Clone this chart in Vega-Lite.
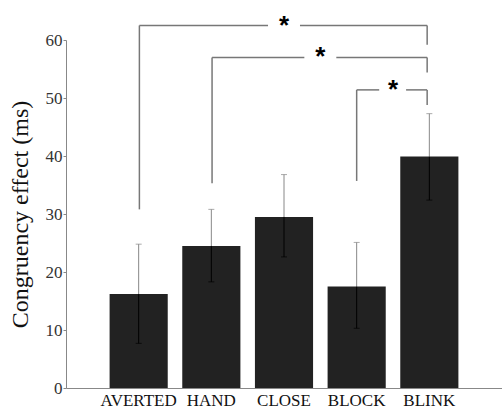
{
  "$schema": "https://vega.github.io/schema/vega-lite/v6.json",
  "width": 436,
  "height": 348,
  "autosize": {"type": "none"},
  "padding": {"left": 66, "top": 40, "right": 0, "bottom": 23},
  "background": "white",
  "config": {"view": {"stroke": null}, "font": "Liberation Serif"},
  "datasets": {
    "bars": [
      {"cond": "AVERTED", "mean": 16.2, "lo": 7.7, "hi": 24.8},
      {"cond": "HAND", "mean": 24.5, "lo": 18.3, "hi": 30.8},
      {"cond": "CLOSE", "mean": 29.5, "lo": 22.6, "hi": 36.8},
      {"cond": "BLOCK", "mean": 17.5, "lo": 10.3, "hi": 25.1},
      {"cond": "BLINK", "mean": 39.9, "lo": 32.4, "hi": 47.3}
    ],
    "vlines": [
      {"bx": 1.01, "by1": 30.8, "by2": 62.5},
      {"bx": 4.97, "by1": 59.2, "by2": 62.5},
      {"bx": 2.01, "by1": 35.3, "by2": 57.0},
      {"bx": 4.97, "by1": 54.4, "by2": 57.0},
      {"bx": 4.0, "by1": 35.7, "by2": 51.4},
      {"bx": 4.97, "by1": 48.8, "by2": 51.4}
    ],
    "hlines": [
      {"bx1": 1.01, "bx2": 2.78, "by": 62.5},
      {"bx1": 3.22, "bx2": 4.97, "by": 62.5},
      {"bx1": 2.01, "bx2": 3.28, "by": 57.0},
      {"bx1": 3.72, "bx2": 4.97, "by": 57.0},
      {"bx1": 4.0, "bx2": 4.31, "by": 51.4},
      {"bx1": 4.68, "bx2": 4.97, "by": 51.4}
    ],
    "stars": [
      {"bx": 3.0, "by": 63.2, "label": "*"},
      {"bx": 3.5, "by": 58.0, "label": "*"},
      {"bx": 4.5, "by": 52.2, "label": "*"}
    ]
  },
  "layer": [
    {
      "data": {"name": "bars"},
      "encoding": {
        "x": {
          "field": "cond",
          "type": "nominal",
          "scale": {"domain": ["AVERTED", "HAND", "CLOSE", "BLOCK", "BLINK"], "paddingInner": 0.2, "paddingOuter": 0.6},
          "axis": {"title": null, "labelAngle": 0, "ticks": false, "domainColor": "#888888", "labelFontSize": 17, "labelColor": "#111111", "labelPadding": 4}
        }
      },
      "layer": [
        {
          "mark": {"type": "bar", "color": "#222222"},
          "encoding": {
            "y": {
              "field": "mean",
              "type": "quantitative",
              "scale": {"domain": [0, 60]},
              "axis": {"title": "Congruency effect (ms)", "values": [0, 10, 20, 30, 40, 50, 60], "grid": false, "domainColor": "#888888", "tickColor": "#888888", "tickSize": 3, "labelFontSize": 17, "labelColor": "#333333", "labelPadding": 1, "titleFontSize": 24, "titleFontWeight": "normal", "titleColor": "#111111", "titlePadding": 13}
            }
          }
        },
        {
          "mark": {"type": "rule", "color": "#888888", "strokeWidth": 1},
          "encoding": {"y": {"field": "mean", "type": "quantitative"}, "y2": {"field": "hi"}}
        },
        {
          "mark": {"type": "rule", "color": "#000000", "strokeWidth": 1},
          "encoding": {"y": {"field": "lo", "type": "quantitative"}, "y2": {"field": "mean"}}
        },
        {
          "mark": {"type": "tick", "color": "#888888", "size": 6, "thickness": 1},
          "encoding": {"y": {"field": "hi", "type": "quantitative"}}
        },
        {
          "mark": {"type": "tick", "color": "#000000", "size": 6, "thickness": 1},
          "encoding": {"y": {"field": "lo", "type": "quantitative"}}
        }
      ]
    },
    {
      "layer": [
        {
          "data": {"name": "vlines"},
          "mark": {"type": "rule", "color": "#777777", "strokeWidth": 1.5},
          "encoding": {
            "x": {"field": "bx", "type": "quantitative", "scale": {"domain": [0, 6], "nice": false, "zero": false}, "axis": null},
            "y": {"field": "by1", "type": "quantitative", "axis": null},
            "y2": {"field": "by2"}
          }
        },
        {
          "data": {"name": "hlines"},
          "mark": {"type": "rule", "color": "#777777", "strokeWidth": 1.5},
          "encoding": {
            "x": {"field": "bx1", "type": "quantitative", "scale": {"domain": [0, 6], "nice": false, "zero": false}, "axis": null},
            "x2": {"field": "bx2"},
            "y": {"field": "by", "type": "quantitative", "axis": null}
          }
        },
        {
          "data": {"name": "stars"},
          "mark": {"type": "text", "font": "Liberation Sans", "fontWeight": "bold", "fontSize": 26, "baseline": "alphabetic", "align": "center", "dy": 13, "color": "#000000"},
          "encoding": {
            "x": {"field": "bx", "type": "quantitative", "scale": {"domain": [0, 6], "nice": false, "zero": false}, "axis": null},
            "y": {"field": "by", "type": "quantitative", "axis": null},
            "text": {"field": "label"}
          }
        }
      ],
      "resolve": {"axis": {"y": "independent"}}
    }
  ],
  "resolve": {"scale": {"x": "independent"}, "axis": {"y": "independent"}}
}
